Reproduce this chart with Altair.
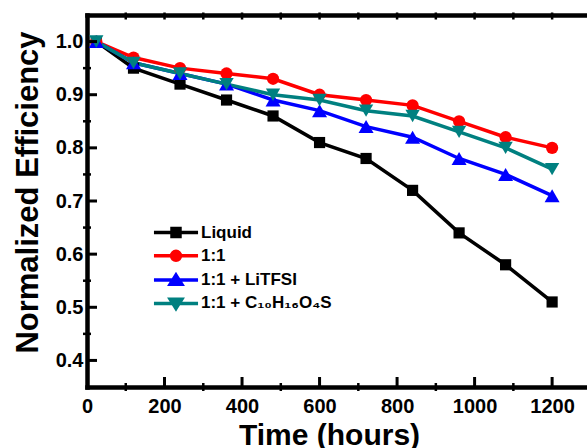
import altair as alt
import pandas as pd

# ---- data ----
hours = [24, 120, 240, 360, 480, 600, 720, 840, 960, 1080, 1200]
series_names = ["Liquid", "1:1", "1:1 + LiTFSI", "1:1 + C₁₀H₁₆O₄S"]
liquid = [1.00, 0.95, 0.92, 0.89, 0.86, 0.81, 0.78, 0.72, 0.64, 0.58, 0.51]
ratio_11 = [1.00, 0.97, 0.95, 0.94, 0.93, 0.90, 0.89, 0.88, 0.85, 0.82, 0.80]
litfsi = [1.00, 0.96, 0.94, 0.92, 0.89, 0.87, 0.84, 0.82, 0.78, 0.75, 0.71]
c10 = [1.00, 0.96, 0.94, 0.92, 0.90, 0.89, 0.87, 0.86, 0.83, 0.80, 0.76]
colors = ["#000000", "#ff0000", "#0000ff", "#008080"]

x_ticks = [0, 200, 400, 600, 800, 1000, 1200]
x_minor = [100, 300, 500, 700, 900, 1100]
top_minor = [100, 200, 300, 400, 500, 600, 700, 800, 900, 1000, 1100, 1200]
y_ticks = [0.4, 0.5, 0.6, 0.7, 0.8, 0.9, 1.0]
y_minor = [0.45, 0.55, 0.65, 0.75, 0.85, 0.95]

# ---- layout / style ----
W, H = 500, 372
FONT = "Liberation Sans"
AXW = 4.5
marker_shapes = ["square", "circle", "triangle-up", "triangle-down"]
marker_sizes = [125, 150, 225, 205]

rows = []
for name, vals in zip(series_names, [liquid, ratio_11, litfsi, c10]):
    for h, v in zip(hours, vals):
        rows.append({"series": name, "hours": h, "eff": v})
df = pd.DataFrame(rows)

xscale = alt.Scale(domain=[0, 1290], nice=False, zero=False)
yscale = alt.Scale(domain=[0.35, 1.05], nice=False, zero=False)
color_scale = alt.Scale(domain=series_names, range=colors)

x_axis = alt.Axis(
    values=x_ticks, format="d", orient="bottom", title="Time (hours)", grid=False,
    ticks=False, tickSize=0, labelPadding=9, labelFlush=False,
    labelFont=FONT, labelFontSize=20, labelFontWeight="bold", labelColor="black",
    domainWidth=AXW, domainColor="black", domainCap="square",
    titleFont=FONT, titleFontSize=30, titleFontWeight="bold", titleColor="black",
    titleX=242, titleY=57, titleBaseline="alphabetic", titleAlign="center",
)
y_axis = alt.Axis(
    values=y_ticks, format=".1f", orient="left", title="Normalized Efficiency", grid=False,
    ticks=False, tickSize=0, labelPadding=4,
    labelFont=FONT, labelFontSize=20, labelFontWeight="bold", labelColor="black",
    domainWidth=AXW, domainColor="black", domainCap="square",
    titleFont=FONT, titleFontSize=31, titleFontWeight="bold", titleColor="black",
    titleX=-50, titleY=177, titleBaseline="alphabetic", titleAlign="center",
)
top_axis = alt.Axis(
    orient="top", title="", labels=False, ticks=False, grid=False,
    domainWidth=AXW, domainColor="black", domainCap="square",
)

legend_paths = [
    "M-2.32,0H2.32M-0.42,-0.42H0.42V0.42H-0.42Z",
    "M-2.32,0H2.32M-0.47,0A0.47,0.47,0,1,1,0.47,0A0.47,0.47,0,1,1,-0.47,0Z",
    "M-2.32,0H2.32M0,-0.53L0.61,0.44L-0.61,0.44Z",
    "M-2.32,0H2.32M0,0.53L0.61,-0.44L-0.61,-0.44Z",
]
leg = alt.Legend(
    title=None, orient="none", legendX=77.5, legendY=206, padding=0,
    symbolSize=361, symbolStrokeWidth=3.5, symbolOpacity=1,
    labelFont=FONT, labelFontSize=17, labelFontWeight="bold", labelColor="black",
    labelOffset=13.5, rowPadding=0.3,
)

base = alt.Chart(df)
X_plain = alt.X("hours:Q", scale=xscale, axis=None)
Y_plain = alt.Y("eff:Q", scale=yscale, axis=None)

lines = base.mark_line(strokeWidth=3.5).encode(
    x=alt.X("hours:Q", scale=xscale, axis=x_axis),
    y=alt.Y("eff:Q", scale=yscale, axis=y_axis),
    stroke=alt.Stroke("series:N", scale=color_scale, legend=leg),
    detail="series:N",
)

point_layers = [
    base.transform_filter(alt.FieldEqualPredicate(field="series", equal=name))
    .mark_point(filled=True, opacity=1, strokeWidth=0, shape=shp, size=sz, color=col)
    .encode(x=X_plain, y=Y_plain)
    for name, shp, sz, col in zip(series_names, marker_shapes, marker_sizes, colors)
]

legend_layer = base.mark_point(filled=True, opacity=0).encode(
    x=X_plain, y=Y_plain,
    fill=alt.Fill("series:N", scale=color_scale, legend=leg),
    stroke=alt.Stroke("series:N", scale=color_scale, legend=leg),
    shape=alt.Shape("series:N", scale=alt.Scale(domain=series_names, range=legend_paths), legend=leg),
)

ymaj = alt.Chart(pd.DataFrame({"v": y_ticks})).mark_tick(
    orient="horizontal", thickness=3, size=10, color="black", opacity=1
).encode(y=alt.Y("v:Q", scale=yscale, axis=None), x=alt.value(5))

ymin = alt.Chart(pd.DataFrame({"v": y_minor})).mark_tick(
    orient="horizontal", thickness=2.5, size=8, color="black", opacity=1
).encode(y=alt.Y("v:Q", scale=yscale, axis=None), x=alt.value(0))

xmaj = alt.Chart(pd.DataFrame({"v": x_ticks[1:]})).mark_tick(
    orient="vertical", thickness=3, size=10, color="black", opacity=1
).encode(x=alt.X("v:Q", scale=xscale, axis=None), y=alt.value(H - 5))

xmin = alt.Chart(pd.DataFrame({"v": x_minor})).mark_tick(
    orient="vertical", thickness=2.5, size=8, color="black", opacity=1
).encode(x=alt.X("v:Q", scale=xscale, axis=None), y=alt.value(H))

topmin = alt.Chart(pd.DataFrame({"v": top_minor})).mark_tick(
    orient="vertical", thickness=2.5, size=7, color="black", opacity=1
).encode(x=alt.X("v:Q", scale=xscale, axis=top_axis), y=alt.value(1))

chart = (
    alt.layer(lines, *point_layers, legend_layer, ymaj, ymin, xmaj, xmin, topmin)
    .resolve_axis(x="independent", y="independent")
    .properties(
        width=W, height=H,
        padding={"left": 87, "top": 15, "right": 0, "bottom": 61},
        autosize=alt.AutoSizeParams(type="none"),
    )
    .configure_view(stroke=None)
)

chart.save("out.html", embed_options={"renderer": "svg", "actions": False})
